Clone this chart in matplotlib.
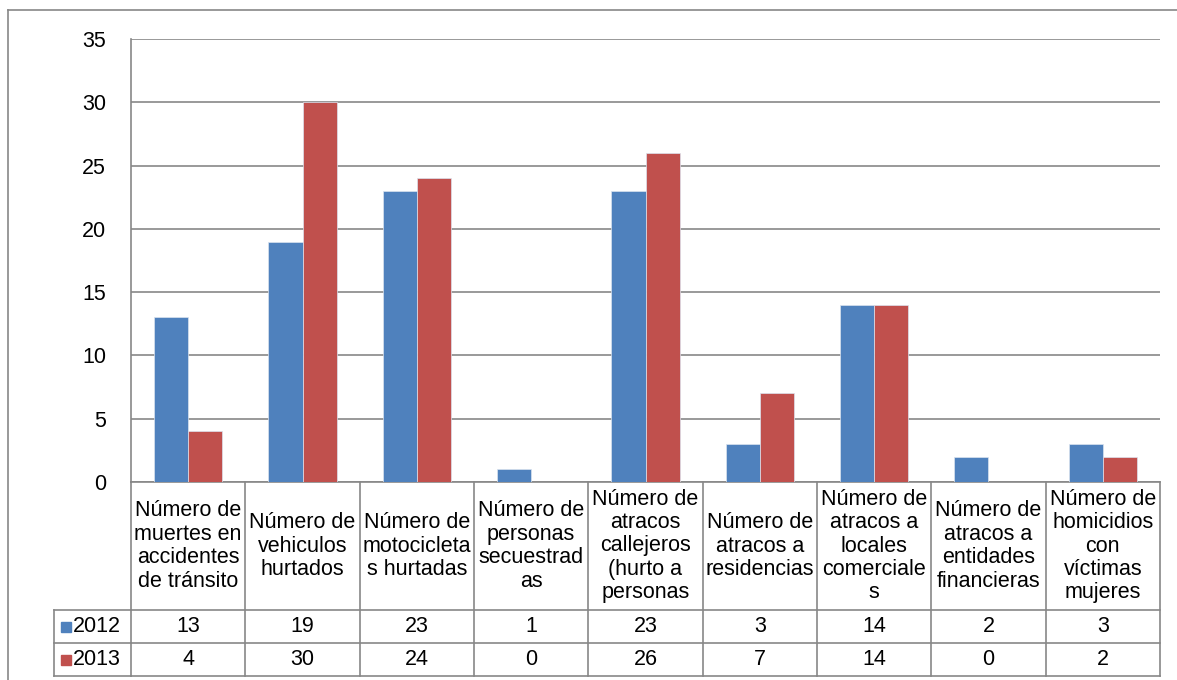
import matplotlib
matplotlib.use("Agg")
import matplotlib.pyplot as plt
import numpy as np
from matplotlib.lines import Line2D
from matplotlib.patches import Rectangle

plt.rcParams['font.family'] = ['Liberation Sans', 'DejaVu Sans']

categories = [
    "Número de\nmuertes en\naccidentes\nde tránsito",
    "Número de\nvehiculos\nhurtados",
    "Número de\nmotocicleta\ns hurtadas",
    "Número de\npersonas\nsecuestrad\nas",
    "Número de\natracos\ncallejeros\n(hurto a\npersonas",
    "Número de\natracos a\nresidencias",
    "Número de\natracos a\nlocales\ncomerciale\ns",
    "Número de\natracos a\nentidades\nfinancieras",
    "Número de\nhomicidios\ncon\nvíctimas\nmujeres",
]
series_names = ["2012", "2013"]
values_2012 = [13, 19, 23, 1, 23, 3, 14, 2, 3]
values_2013 = [4, 30, 24, 0, 26, 7, 14, 0, 2]
colors = ["#4F81BD", "#C0504D"]
yticks = [0, 5, 10, 15, 20, 25, 30, 35]

W, H = 1177, 680
FS = 15.5
fig = plt.figure(figsize=(W / 100, H / 100), dpi=100)
grid = "#878787"

# plot area in pixels
left, right, top, bottom = 131, 1160, 39, 482
ax = fig.add_axes([left / W, 1 - bottom / H, (right - left) / W, (bottom - top) / H])

n = len(categories)
x = np.arange(n)
bw = 0.30
for vals, c, off in [(values_2012, colors[0], -bw / 2), (values_2013, colors[1], bw / 2)]:
    ax.bar(x + off, vals, bw, color=c, edgecolor="#dbe3ef", linewidth=0.5, zorder=3)

ax.set_xlim(-0.5, n - 0.5)
ax.set_ylim(0, 35)
ax.set_yticks(yticks)
ax.set_xticks([])
ax.yaxis.grid(True, color=grid, linewidth=1.2, zorder=0)
ax.tick_params(axis="y", length=0, pad=18, labelsize=FS)
for s in ["top", "right"]:
    ax.spines[s].set_visible(False)
for s in ["left", "bottom"]:
    ax.spines[s].set_color(grid)
    ax.spines[s].set_linewidth(1.2)


def yf(py):
    # pixel y below the axes -> axes fraction
    return (bottom - py) / (bottom - top)


tr = ax.get_xaxis_transform()
row_lab, row1, row2 = 610, 643, 676
kw = dict(transform=tr, clip_on=False, color=grid, linewidth=1.2)

# vertical lines of the table
for i in range(n + 1):
    ax.add_line(Line2D([i - 0.5, i - 0.5], [yf(bottom), yf(row2)], **kw))
# horizontal lines
ax.add_line(Line2D([-0.5, n - 0.5], [yf(row_lab), yf(row_lab)], **kw))
for py in [row1, row2]:
    ax.add_line(Line2D([-0.5, n - 0.5], [yf(py), yf(py)], **kw))

# legend column (figure pixels)
def fx(px):
    return px / W

def fy(py):
    return 1 - py / H

lk = dict(transform=fig.transFigure, color=grid, linewidth=1.2)
fig.add_artist(Line2D([fx(54), fx(left)], [fy(row_lab), fy(row_lab)], **lk))
fig.add_artist(Line2D([fx(54), fx(left)], [fy(row1), fy(row1)], **lk))
fig.add_artist(Line2D([fx(54), fx(left)], [fy(row2), fy(row2)], **lk))
fig.add_artist(Line2D([fx(54), fx(54)], [fy(row_lab), fy(row2)], **lk))

# category labels
for i, lab in enumerate(categories):
    ax.text(i, yf((bottom + row_lab) / 2), lab, transform=tr, ha="center", va="center",
            fontsize=FS, linespacing=1.15, clip_on=False)

# value rows
for r, (name, vals, c) in enumerate(zip(series_names, [values_2012, values_2013], colors)):
    ytop = [row_lab, row1][r]
    yb = [row1, row2][r]
    yc = (ytop + yb) / 2
    for i, v in enumerate(vals):
        ax.text(i, yf(yc), str(v), transform=tr, ha="center", va="center", fontsize=FS)
    fig.add_artist(Rectangle((fx(61), fy(yc + 5)), 10 / W, 10 / H, transform=fig.transFigure,
                             color=c))
    fig.text(fx(73), fy(yc), name, ha="left", va="center", fontsize=FS)

# outer chart frame
fig.add_artist(Line2D([fx(8), fx(8)], [fy(10), 0], **lk))
fig.add_artist(Line2D([fx(8), 1], [fy(10), fy(10)], **lk))

fig.savefig("out.png", dpi=100)
